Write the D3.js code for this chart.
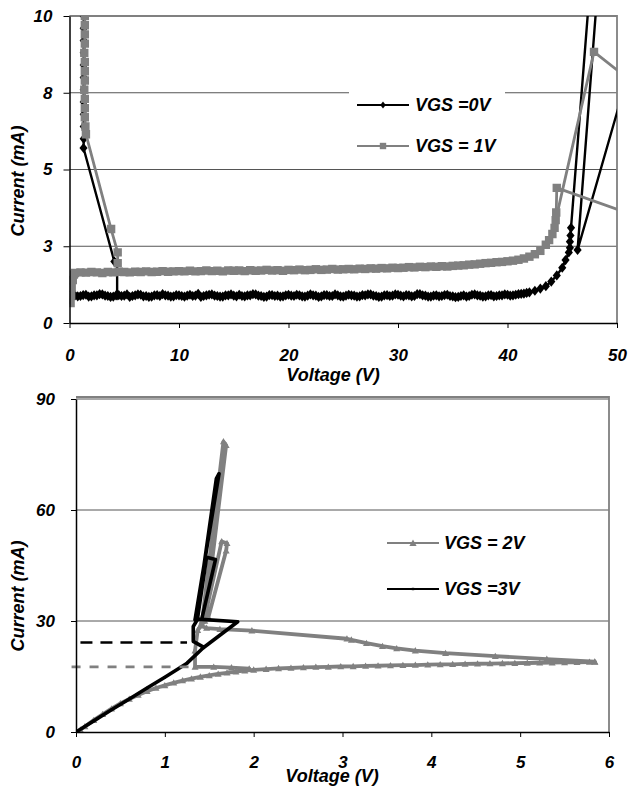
<!DOCTYPE html>
<html><head><meta charset="utf-8">
<script src="https://cdn.jsdelivr.net/npm/d3@7"></script>
<style>
html,body{margin:0;padding:0;background:#fff;}
svg text{font-family:"Liberation Sans",Arial,sans-serif;font-weight:bold;font-style:italic;fill:#000;}
</style></head><body>
<svg id="c" width="631" height="787"></svg>
<script>
// ---------------- DATA: top chart (VGS = 0V / 1V, 0-50 V) ----------------
const topXTicks = [0, 10, 20, 30, 40, 50];
const topXLabels = ["0", "10", "20", "30", "40", "50"];
const topYTicks = [0, 2.5, 5, 7.5, 10];
const topYLabels = ["0", "3", "5", "8", "10"];

const bandV0 = [0.5,0.75,1,1.25,1.5,1.75,2,2.25,2.5,2.75,
  3,3.25,3.5,3.75,4,4.25,4.5,4.75,5,5.25,
  5.5,5.75,6,6.25,6.5,6.75,7,7.25,7.5,7.75,
  8,8.25,8.5,8.75,9,9.25,9.5,9.75,10,10.25,
  10.5,10.75,11,11.25,11.5,11.75,12,12.25,12.5,12.75,
  13,13.25,13.5,13.75,14,14.25,14.5,14.75,15,15.25,
  15.5,15.75,16,16.25,16.5,16.75,17,17.25,17.5,17.75,
  18,18.25,18.5,18.75,19,19.25,19.5,19.75,20,20.25,
  20.5,20.75,21,21.25,21.5,21.75,22,22.25,22.5,22.75,
  23,23.25,23.5,23.75,24,24.25,24.5,24.75,25,25.25,
  25.5,25.75,26,26.25,26.5,26.75,27,27.25,27.5,27.75,
  28,28.25,28.5,28.75,29,29.25,29.5,29.75,30,30.25,
  30.5,30.75,31,31.25,31.5,31.75,32,32.25,32.5,32.75,
  33,33.25,33.5,33.75,34,34.25,34.5,34.75,35,35.25,
  35.5,35.75,36,36.25,36.5,36.75,37,37.25,37.5,37.75,
  38,38.25,38.5,38.75,39,39.25,39.5,39.75,40,40.25,
  40.5,40.75,41,41.25,41.5,41.75,42];
const vgs0BandI = [0.90,0.87,0.88,0.91,0.92,0.86,0.87,0.90,0.90,0.94,
  0.93,0.89,0.88,0.85,0.86,0.90,0.91,0.88,0.89,0.93,
  0.85,0.88,0.90,0.93,0.92,0.87,0.88,0.85,0.86,0.90,
  0.91,0.88,0.94,0.90,0.89,0.86,0.87,0.91,0.90,0.88,
  0.86,0.89,0.92,0.88,0.89,0.95,0.85,0.88,0.90,0.92,
  0.93,0.89,0.88,0.86,0.86,0.90,0.90,0.93,0.89,0.87,
  0.92,0.88,0.87,0.90,0.90,0.94,0.93,0.89,0.88,0.85,
  0.86,0.91,0.91,0.88,0.89,0.86,0.87,0.90,0.92,0.89,
  0.88,0.92,0.90,0.87,0.86,0.89,0.93,0.90,0.89,0.85,
  0.87,0.91,0.91,0.88,0.88,0.93,0.90,0.87,0.86,0.89,
  0.92,0.90,0.89,0.86,0.87,0.91,0.90,0.93,0.93,0.89,
  0.88,0.85,0.86,0.90,0.91,0.88,0.89,0.93,0.92,0.89,
  0.87,0.91,0.90,0.87,0.88,0.94,0.94,0.90,0.89,0.86,
  0.86,0.89,0.90,0.87,0.88,0.91,0.92,0.88,0.87,0.84,
  0.85,0.88,0.90,0.86,0.88,0.92,0.93,0.90,0.89,0.86,
  0.87,0.90,0.91,0.87,0.88,0.90,0.90,0.93,0.92,0.89,
  0.90,0.92,0.94,0.95,0.96,0.98,1.00];
const vgs0Rise = [[42.5,1.05],[43,1.12],[43.5,1.2],[44,1.35],[44.5,1.55],[45,1.8],[45.3,2.05],[45.6,2.3],[45.7,2.45],[45.7,2.65],[45.75,2.85],[45.8,3.1],[48.2,14]];
const vgs0Return = [[48.9,14],[46.4,2.38],[51,8.1]];
const vgs0LowV = [[1.3,10.5],[1.3,10],[1.3,9.6],[1.3,9.2],[1.3,8.8],[1.3,8.4],[1.3,8.0],[1.3,7.6],[1.3,7.2],[1.3,6.8],[1.3,6.4],[1.3,6.0],[1.28,5.7],[4.1,2.0],[4.35,1.95],[4.35,0.9]];

const vgs1Start = [[0.1,0.65],[0.15,0.9],[0.2,1.15],[0.3,1.4],[0.4,1.58]];
const bandV1 = [0.5,1,1.5,2,2.5,3,3.5,4,4.5,5,5.5,6,6.5,7,7.5,8,8.5,9,9.5,10,10.5,11,11.5,12,12.5,13,13.5,14,14.5,15,15.5,16,16.5,17,17.5,18,18.5,19,19.5,20,20.5,21,21.5,22,22.5,23,23.5,24,24.5,25,25.5,26,26.5,27,27.5,28,28.5,29,29.5,30,30.5,31,31.5,32,32.5,33,33.5,34,34.5,35,35.5,36,36.5,37,37.5,38,38.5,39,39.5,40,40.5,41,41.5,42,42.5,43];
const vgs1BandI = [1.63,1.65,1.64,1.66,1.65,1.63,1.66,1.65,1.67,1.66,
  1.65,1.67,1.66,1.68,1.66,1.67,1.69,1.67,1.68,1.69,
  1.68,1.70,1.68,1.69,1.71,1.69,1.70,1.68,1.71,1.70,
  1.71,1.69,1.72,1.70,1.71,1.73,1.71,1.72,1.70,1.73,
  1.72,1.74,1.72,1.73,1.75,1.73,1.74,1.76,1.74,1.75,
  1.76,1.75,1.77,1.76,1.78,1.77,1.79,1.78,1.80,1.79,
  1.80,1.82,1.81,1.83,1.82,1.84,1.83,1.85,1.84,1.86,
  1.87,1.88,1.90,1.91,1.93,1.95,1.96,1.98,1.99,2.01,
  2.03,2.06,2.10,2.16,2.24,2.35];
const vgs1Rise = [[43.5,2.55],[43.8,2.7],[44.1,2.9],[44.3,3.1],[44.4,3.35],[47.9,8.83],[52,7.68]];
const vgs1Return = [[52,3.45],[44.5,4.4],[44.45,3.6]];
const vgs1LowV = [[1.4,10.5],[1.4,10],[1.4,9.7],[1.4,9.4],[1.4,9.1],[1.35,8.8],[1.4,8.5],[1.4,8.2],[1.4,7.9],[1.35,7.6],[1.4,7.3],[1.4,7.0],[1.4,6.7],[1.45,6.4],[1.5,6.15],[3.8,3.06],[4.4,2.3],[4.4,1.95]];

// ---------------- DATA: bottom chart (VGS = 2V / 3V, 0-6 V) ----------------
const botXTicks = [0, 1, 2, 3, 4, 5, 6];
const botXLabels = ["0", "1", "2", "3", "4", "5", "6"];
const botYTicks = [0, 30, 60, 90];
const botYLabels = ["0", "30", "60", "90"];

const vgs2Forward = [[0,0],[0.05,0.6],[0.1,1.5],[0.2,3.2],[0.3,4.8],[0.4,6.3],[0.5,7.7],[0.6,8.9],[0.7,10.0],[0.8,11.0],[0.9,11.9],[1.0,12.6],[1.1,13.3],[1.2,13.9],[1.3,14.4],[1.4,14.9],[1.5,15.3],[1.6,15.7],[1.7,16.0],[1.8,16.3],[1.9,16.6],
  [2.0,16.8],[2.14,17.0],[2.28,17.2],[2.42,17.3],[2.56,17.45],[2.7,17.55],[2.84,17.6],[2.98,17.7],[3.12,17.75],[3.26,17.85],[3.4,17.9],[3.54,18.0],[3.68,18.05],[3.82,18.1],[3.96,18.2],[4.1,18.25],[4.24,18.3],[4.38,18.4],[4.52,18.45],[4.66,18.5],[4.8,18.55],[4.94,18.6],[5.08,18.65],[5.22,18.7],[5.36,18.75],[5.5,18.8],[5.64,18.85],[5.78,18.9],[5.84,18.9]];
const vgs2Return = [[5.84,19.0],[5.3,19.7],[4.72,20.5],[4.16,21.3],[3.82,22.0],[3.61,22.6],[3.45,23.2],[3.27,24.0],[3.1,24.9],[3.05,25.2],[1.98,27.4],[1.62,27.8],[1.47,28.1],[1.40,28.8],[1.42,30],[1.66,78.5],[1.69,77.5],[1.45,30],[1.37,27.5],[1.34,22],[1.34,17.6],[1.55,17.6],[1.75,17.4],[1.95,17.1]];
const vgs2Loop = [[1.45,31],[1.64,51.5],[1.70,51.0],[1.69,49],[1.49,31]];

const vgs3Forward = [[0,0],[0.2,3.0],[0.4,6.0],[0.6,8.9],[0.8,11.9],[1.0,14.8],[1.25,18.6],[1.43,22.7],[1.82,29.8],[1.37,30.5],[1.32,28.5],[1.32,24.5],[1.43,23.0]];
const vgs3High = [[1.34,30.3],[1.61,69.8],[1.58,68.5],[1.36,31.5]];
const vgs3Loop = [[1.37,31],[1.47,47.2],[1.57,46.6],[1.42,31]];

// reference levels (dashed): [V start, V end, mA]
const level3V = [0.05, 1.25, 24.2];
const level2V = [-0.05, 1.32, 17.6];

// ---------------- DRAWING ----------------
const GRAY = "#808080";
const svg = d3.select("#c");
const defs = svg.append("defs");
defs.append("filter").attr("id","blur").attr("x","-20%").attr("y","-300%").attr("width","140%").attr("height","700%")
  .append("feGaussianBlur").attr("stdDeviation", 2.5);

function shape(kind, s) {
  if (kind === "diamond") return `M0,${-s}L${s*0.8},0L0,${s}L${-s*0.8},0Z`;
  if (kind === "square") return `M${-s},${-s}H${s}V${s}H${-s}Z`;
  if (kind === "triangle") return `M0,${-s}L${s},${s*0.8}L${-s},${s*0.8}Z`;
  if (kind === "dot") return `M${-s},${-s}H${s}V${s}H${-s}Z`;
  return "";
}

function drawSeries(g, sweeps, xs, ys, st) {
  const line = d3.line().x(d => xs(d[0])).y(d => ys(d[1]));
  sweeps.forEach(s => {
    g.append("path").datum(s).attr("d", line).attr("fill","none")
      .attr("stroke", st.color).attr("stroke-width", st.width).attr("stroke-linejoin","round").attr("stroke-linecap","round");
  });
  sweeps.forEach(s => {
    g.selectAll(null).data(s).enter().append("path")
      .attr("transform", d => `translate(${xs(d[0])},${ys(d[1])})`)
      .attr("d", shape(st.marker, st.msize)).attr("fill", st.color);
  });
}

function styleAxis(ax, fs) {
  ax.select(".domain").attr("stroke","#000").attr("stroke-width",1.5);
  ax.selectAll(".tick line").attr("stroke","#000").attr("stroke-width",1);
  ax.selectAll(".tick text").attr("font-size", fs).attr("fill","#000")
    .style("font-family",'"Liberation Sans",Arial,sans-serif').style("font-weight","bold").style("font-style","italic");
}

function chart(cfg) {
  const xs = d3.scaleLinear().domain(cfg.xd).range(cfg.xr);
  const ys = d3.scaleLinear().domain(cfg.yd).range(cfg.yr);
  const g = svg.append("g");
  const id = "clip" + cfg.name;
  defs.append("clipPath").attr("id", id).append("rect")
    .attr("x", cfg.xr[0]).attr("y", cfg.yr[1]).attr("width", cfg.xr[1]-cfg.xr[0]).attr("height", cfg.yr[0]-cfg.yr[1]);
  g.selectAll(null).data(cfg.yt.filter(v => v > cfg.yd[0])).enter().append("line")
    .attr("x1", cfg.xr[0]).attr("x2", cfg.xr[1]).attr("y1", d => ys(d)).attr("y2", d => ys(d))
    .attr("stroke", "#555").attr("stroke-width", 1);
  g.append("path").attr("d", `M${cfg.xr[0]},${ys(cfg.yd[1]) - cfg.topOff}H${cfg.xr[1]}V${cfg.yr[0]}`)
    .attr("fill","none").attr("stroke", GRAY).attr("stroke-width", 1.8);
  return {xs, ys, g, id};
}

// ===== Top chart =====
const T = chart({name:"T", xd:[0,50], xr:[69.5,617], yd:[0,10], yr:[323,16], yt: topYTicks, topOff: 0});
const topData = T.g.append("g").attr("clip-path", `url(#${T.id})`);
drawSeries(topData, [bandV0.map((v,i)=>[v, vgs0BandI[i]]).concat(vgs0Rise), vgs0Return, vgs0LowV], T.xs, T.ys,
  {color:"#000", width:2.4, marker:"diamond", msize:5.1});
drawSeries(topData, [vgs1Start.concat(bandV1.map((v,i)=>[v, vgs1BandI[i]])).concat(vgs1Rise), vgs1Return, vgs1LowV], T.xs, T.ys,
  {color:GRAY, width:2.8, marker:"square", msize:4.2});

const tya = svg.append("g").attr("transform", `translate(69.5,0)`)
  .call(d3.axisLeft(T.ys).tickValues(topYTicks).tickFormat((d,i)=>topYLabels[i]).tickSize(6).tickPadding(11).tickSizeOuter(0));
styleAxis(tya, 17);
const txa = svg.append("g").attr("transform", `translate(0,323)`)
  .call(d3.axisBottom(T.xs).tickValues(topXTicks).tickFormat((d,i)=>topXLabels[i]).tickSize(5).tickPadding(21).tickSizeOuter(0));
styleAxis(txa, 17);

svg.append("text").attr("x", 333).attr("y", 381).attr("text-anchor","middle").attr("font-size",18).text("Voltage (V)");
svg.append("text").attr("transform","translate(24,181) rotate(-90)").attr("text-anchor","middle").attr("font-size",18).text("Current (mA)");

// top legend
const tl = svg.append("g");
tl.append("rect").attr("x",349).attr("y",74).attr("width",156).attr("height",88).attr("fill","#fff");
[["VGS =0V","#000","diamond",3.4,105],["VGS = 1V",GRAY,"square",3.2,146]].forEach(r => {
  tl.append("line").attr("x1",357).attr("x2",409).attr("y1",r[4]).attr("y2",r[4]).attr("stroke",r[1]).attr("stroke-width",2.2);
  tl.append("path").attr("transform",`translate(383,${r[4]})`).attr("d",shape(r[2],r[3])).attr("fill",r[1]);
  tl.append("text").attr("x",415).attr("y",r[4]).attr("dy","0.36em").attr("font-size",18).text(r[0]);
});

// ===== Bottom chart =====
const B = chart({name:"B", xd:[0,6], xr:[76,609], yd:[0,90], yr:[732,399], yt: botYTicks, topOff: 2});

[[level3V,"#000",[12,8]],[level2V,GRAY,[9,9]]].forEach(l => {
  const [a,b,y] = l[0];
  svg.append("line").attr("x1",B.xs(a)-4).attr("x2",B.xs(b)+8).attr("y1",B.ys(y)).attr("y2",B.ys(y))
    .attr("stroke","#c4c4c4").attr("stroke-width",10).attr("stroke-dasharray",l[2].join(",")).attr("filter","url(#blur)");
  svg.append("line").attr("x1",B.xs(a)).attr("x2",B.xs(b)).attr("y1",B.ys(y)).attr("y2",B.ys(y))
    .attr("stroke",l[1]).attr("stroke-width",2.6).attr("stroke-dasharray",l[2].join(","));
});

const botData = B.g.append("g").attr("clip-path", `url(#${B.id})`);
drawSeries(botData, [vgs2Forward, vgs2Return, vgs2Loop], B.xs, B.ys, {color:GRAY, width:3.8, marker:"triangle", msize:3.5});
drawSeries(botData, [vgs3Forward, vgs3High, vgs3Loop], B.xs, B.ys, {color:"#000", width:3.6, marker:"dot", msize:1.2});

const bya = svg.append("g").attr("transform", `translate(76,0)`)
  .call(d3.axisLeft(B.ys).tickValues(botYTicks).tickFormat((d,i)=>botYLabels[i]).tickSize(5).tickPadding(16).tickSizeOuter(0));
styleAxis(bya, 17);
const bxa = svg.append("g").attr("transform", `translate(0,732)`)
  .call(d3.axisBottom(B.xs).tickValues(botXTicks).tickFormat((d,i)=>botXLabels[i]).tickSize(5).tickPadding(19).tickSizeOuter(0));
styleAxis(bxa, 17);

svg.append("text").attr("x", 332).attr("y", 782).attr("text-anchor","middle").attr("font-size",18).text("Voltage (V)");
svg.append("text").attr("transform","translate(24,596) rotate(-90)").attr("text-anchor","middle").attr("font-size",18).text("Current (mA)");

// bottom legend
const bl = svg.append("g");
[["VGS = 2V",GRAY,"triangle",3.6,543],["VGS =3V","#000","dot",1.2,589]].forEach(r => {
  bl.append("line").attr("x1",387).attr("x2",439).attr("y1",r[4]).attr("y2",r[4]).attr("stroke",r[1]).attr("stroke-width",2.2);
  bl.append("path").attr("transform",`translate(413,${r[4]})`).attr("d",shape(r[2],r[3])).attr("fill",r[1]);
  bl.append("text").attr("x",444).attr("y",r[4]).attr("dy","0.36em").attr("font-size",18).text(r[0]);
});
</script>
</body></html>
